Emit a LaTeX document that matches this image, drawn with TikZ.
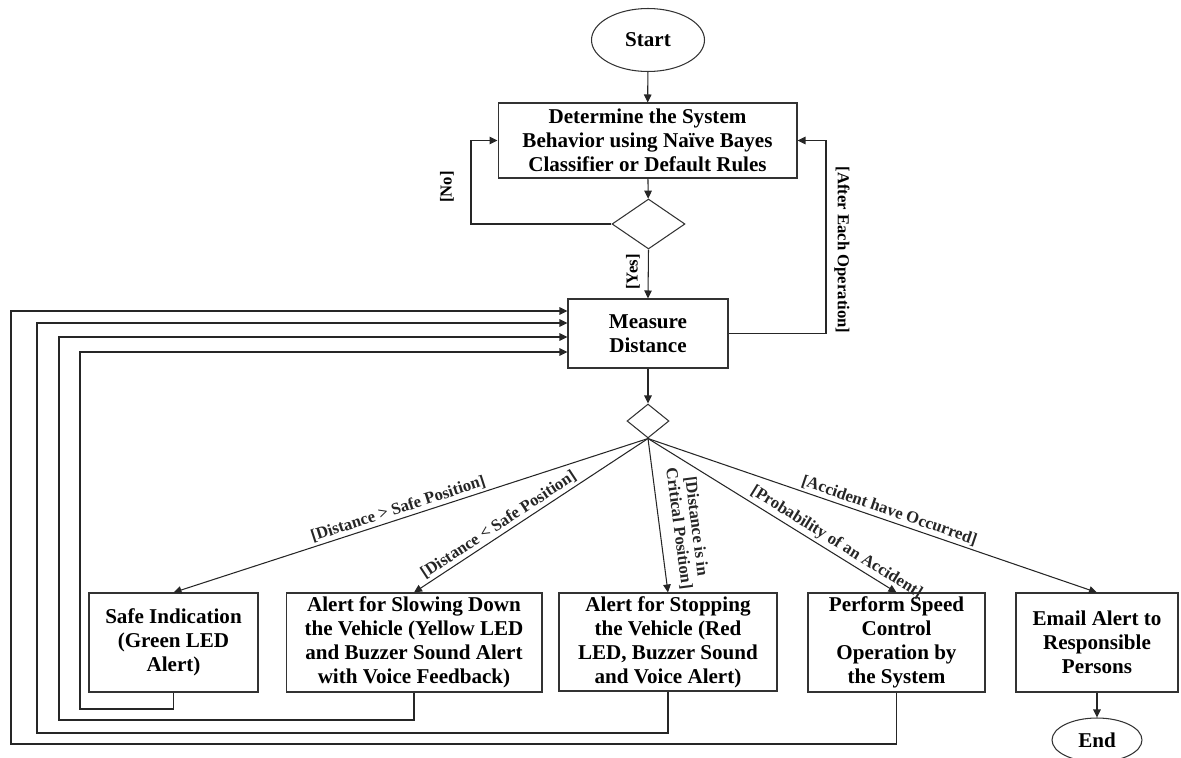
\documentclass[tikz,border=0pt]{standalone}
\usepackage{fontspec}
\setmainfont{Liberation Serif}
\usetikzlibrary{shapes.geometric}
\usetikzlibrary{arrows.meta}
\usetikzlibrary{positioning}

\tikzset{
  box/.style = {draw=black!80, line width=0.6pt, rectangle, align=center,
                font=\bfseries\fontsize{12}{13.6}\selectfont, inner sep=1pt},
  term/.style = {draw=black!80, line width=0.6pt, ellipse, inner sep=0pt,
                 font=\bfseries\fontsize{12}{13.6}\selectfont},
  dec/.style = {draw=black!80, line width=0.6pt, diamond, inner sep=0pt},
  arr/.style = {line width=0.6pt, black!85, -{Triangle[length=1.6mm,width=1.5mm]}},
  lbl/.style = {font=\bfseries\fontsize{9.5}{10}\selectfont, inner sep=1.5pt, align=center}
}

\begin{document}
\begin{tikzpicture}[x=0.02cm, y=-0.02cm]
      \useasboundingbox (0,0) rectangle (1181,758);

      % top part
      \node[term, minimum width=2.26cm, minimum height=1.26cm] (start) at (648,40) {Start};
      \node[box, minimum width=5.98cm, minimum height=1.5cm] (det) at (647.5,140.5)
            {Determine the System\\Behavior using Naïve Bayes\\Classifier or Default Rules};
      \node[dec, minimum width=1.46cm, minimum height=1cm, aspect=1.46] (d1) at (648.5,224) {};
      \node[box, minimum width=3.2cm, minimum height=1.38cm] (meas) at (648,333.5) {Measure\\Distance};
      \node[dec, minimum width=0.84cm, minimum height=0.68cm, aspect=1.24] (d2) at (648,421) {};

      % actions
      \node[box, minimum width=3.38cm, minimum height=1.98cm] (safe) at (173.5,642.5)
            {Safe Indication\\(Green LED\\Alert)};
      \node[box, minimum width=5.12cm, minimum height=1.98cm] (slow) at (414,642.5)
            {Alert for Slowing Down\\the Vehicle (Yellow LED\\and Buzzer Sound Alert\\with Voice Feedback)};
      \node[box, minimum width=4.36cm, minimum height=1.96cm] (stop) at (668,642)
            {Alert for Stopping\\the Vehicle (Red\\LED, Buzzer Sound\\and Voice Alert)};
      \node[box, minimum width=3.54cm, minimum height=1.98cm] (speed) at (896.5,642.5)
            {Perform Speed\\Control\\Operation by\\the System};
      \node[box, minimum width=3.24cm, minimum height=1.98cm] (email) at (1097,642.5)
            {Email Alert to\\Responsible\\Persons};
      \node[term, minimum width=1.8cm, minimum height=0.88cm] (end) at (1097,740) {End};

      % corners of the loops
      \coordinate (noc) at (471,224);
      \coordinate (aec) at (826,333.5);
      \coordinate (fb1) at (80,709);
      \coordinate (fb2) at (59,720);
      \coordinate (fb3) at (37,733);
      \coordinate (fb4) at (11,744);

      \draw[arr] (start) -- (det);
      \draw[arr] (det) -- (d1);
      \draw[arr] (d1.west) -- (noc) |- (det.west);
      \node[lbl, rotate=90] (no) at (447,187) {[No]};
      \draw[arr] (d1.south) -- (meas.north);
      \node[lbl, rotate=90] (yes) at (633,272) {[Yes]};
      \draw[arr] (meas.east) -- (aec) |- (det.east);
      \node[lbl, rotate=-90] (aeo) at (842,250) {[After Each Operation]};
      \draw[arr] (meas) -- (d2);

      \draw[arr] (d2.south) -- node[lbl, sloped, above, pos=0.52] {[Distance > Safe Position]} (safe.north);
      \draw[arr] (d2.south) -- node[lbl, sloped, above, pos=0.615] {[Distance < Safe Position]} (slow.north);
      \draw[arr] (d2.south) -- node[lbl, sloped, above=5pt, pos=0.6] {[Distance is in\\Critical Position]} (stop.north);
      \draw[arr] (d2.south) -- node[lbl, sloped, above, pos=0.735] {[Probability of an Accident]} (speed.north);
      \draw[arr] (d2.south) -- node[lbl, sloped, above, pos=0.53] {[Accident have Occurred]} (email.north);
      \draw[arr] (email) -- (end);

      % back to measuring
      \draw[arr] (safe.south) |- (fb1) |- ([yshift=-0.37cm]meas.west);
      \draw[arr] (slow.south) |- (fb2) |- ([yshift=-0.07cm]meas.west);
      \draw[arr] (stop.south) |- (fb3) |- ([yshift=0.21cm]meas.west);
      \draw[arr] (speed.south) |- (fb4) |- ([yshift=0.45cm]meas.west);
    \end{tikzpicture}
\end{document}
